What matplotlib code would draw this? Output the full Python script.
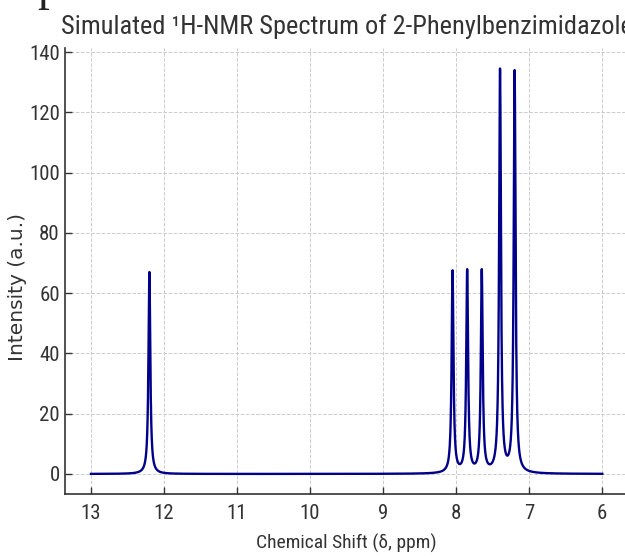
import numpy as np
import matplotlib
matplotlib.use("Agg")
import matplotlib.pyplot as plt

# Peak list (position in ppm, peak height in a.u.)
shifts = [12.2, 8.05, 7.85, 7.65, 7.40, 7.20]
heights = [67.0, 67.0, 67.0, 67.0, 133.5, 133.5]
hwhm = 0.015  # Lorentzian half width

ppm_start, ppm_end = 13.0, 6.0
x_ticks = [13, 12, 11, 10, 9, 8, 7, 6]
y_ticks = [0, 20, 40, 60, 80, 100, 120, 140]

narrow = ['Roboto Condensed', 'DejaVu Sans']
txt = '#333333'

# Build spectrum as a sum of Lorentzian lines
x = np.linspace(ppm_start, ppm_end, 4000)
y = np.zeros_like(x)
for d, h in zip(shifts, heights):
    y += h * hwhm**2 / ((x - d)**2 + hwhm**2)

fig = plt.figure(figsize=(6.25, 5.56), dpi=100)
ax = fig.add_axes([0.1046, 0.1112, 0.90, 0.802])

ax.plot(x, y, color='darkblue', linewidth=1.7)
ax.invert_xaxis()

ax.set_xticks(x_ticks)
ax.set_yticks(y_ticks)
ax.grid(True, linestyle='--', color='#cccccc', linewidth=0.7)
ax.set_axisbelow(True)

for s in ['top', 'right']:
    ax.spines[s].set_visible(False)
for s in ['left', 'bottom']:
    ax.spines[s].set_color('#333333')
    ax.spines[s].set_linewidth(1.2)

ax.tick_params(axis='both', direction='in', length=5, width=1, color='#333333',
               labelcolor=txt)
ax.tick_params(axis='x', pad=7)
ax.tick_params(axis='y', pad=4)
for lab in ax.get_xticklabels() + ax.get_yticklabels():
    lab.set_family(narrow)
    lab.set_fontsize(15)

ax.set_title('Simulated ¹H-NMR Spectrum of 2-Phenylbenzimidazole',
             family=narrow, fontsize=19.0, color=txt, pad=10.4)
ax.set_xlabel('Chemical Shift (δ, ppm)', family=narrow, fontsize=14, color=txt,
              labelpad=8)
ax.set_ylabel('Intensity (a.u.)', family='DejaVu Sans', fontsize=14.5, color=txt)
ax.yaxis.set_label_coords(-0.068, 0.465)

# stray glyph from the page above the chart
fig.text(0.060, 1.0, 'p', family='Liberation Serif', fontsize=34, color='#222222',
         va='baseline', ha='left')

fig.savefig('out.png', dpi=100)
